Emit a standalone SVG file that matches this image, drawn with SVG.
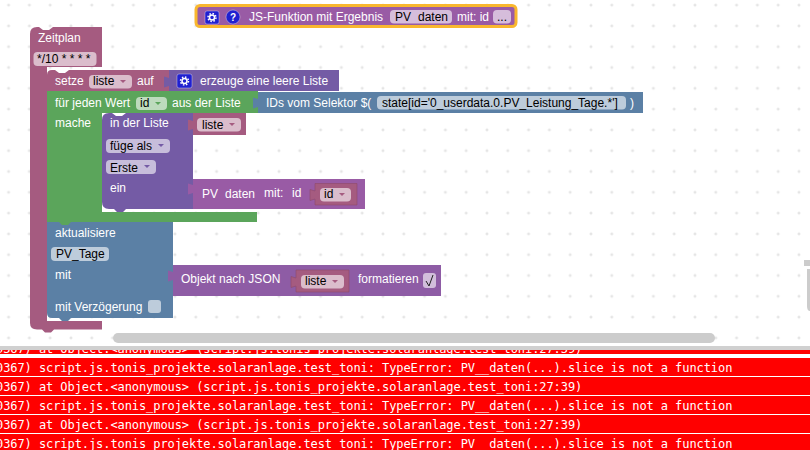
<svg xmlns="http://www.w3.org/2000/svg" width="810" height="450" viewBox="0 0 810 450">
<style>
text{font-family:"Liberation Sans",Arial,sans-serif;font-size:12px;fill:#fff;white-space:pre}
text.f{fill:#000}
text.m{font-family:"DejaVu Sans Mono","Liberation Mono",monospace;fill:#fff;letter-spacing:-.076px}
.pi{fill:#fff;fill-opacity:.6}
.ic{fill:#2020d0;stroke:#fff;stroke-opacity:.35}
.gear{fill:none;stroke:#fff;stroke-width:1.500}
.gt{fill:none;stroke:#fff;stroke-width:1.500;stroke-dasharray:1.500 1.640}
.red{fill:#f00}
.bar{fill:#ccc}
</style>
<defs>
<pattern id="grid" x="8.6" y="5.1" width="20.8" height="20.8" patternUnits="userSpaceOnUse">
<path d="M0,-1.5V1.5M-1.5,0H1.5M20.8,-1.5V1.5M19.3,0H22.3M0,19.3V22.3M-1.5,20.8H1.5M20.8,19.3V22.3M19.3,20.8H22.3" stroke="#ddd" stroke-width="1" fill="none"/>
</pattern>
<clipPath id="log"><rect x="0" y="350" width="810" height="100"/></clipPath>
</defs>
<rect width="810" height="346" fill="#fff"/>
<rect width="810" height="346" fill="url(#grid)"/>

<g id="func">
<rect x="196" y="5.5" width="320" height="21" rx="4" fill="#995ba5" stroke="#f9b72e" stroke-width="3"/>
<rect class="ic" x="205" y="11" width="14" height="13" rx="2"/><circle class="gear" cx="212" cy="17.500" r="2.500"/><circle class="gt" cx="212" cy="17.500" r="4"/>
<circle class="ic" cx="233" cy="17" r="7"/><text x="230" y="21" style="font-weight:bold;font-size:10px">?</text>
<text x="249" y="21">JS-Funktion mit Ergebnis</text>
<rect class="pi" x="390" y="10" width="62" height="13.500" rx="4"/>
<text class="f" x="395" y="21">PV</text><text class="f" x="418" y="21">daten</text>
<text x="457" y="21">mit: id</text>
<rect class="pi" x="493" y="10" width="18" height="13.500" rx="4"/><text class="f" x="497" y="21">...</text>
</g>

<g id="zeitplan">
<path d="M30,34Q30,27 37,27H39l4,3h6l4,-3H102V67H47V321H102V329.500H54l-3,3h-6l-3,-3H37Q30,329.500 30,323Z" fill="#a55b80"/>
<text x="38" y="42">Zeitplan</text>
<rect class="pi" x="33.500" y="52" width="63" height="14" rx="4"/>
<text class="f" x="37" y="63">*/10 * * * *</text>
</g>

<g id="setze">
<path d="M47,75Q47,70 52,70H55l4,3h6l4,-3H170V91H47Z" fill="#a55b80"/>
<text x="55" y="85">setze</text>
<rect class="pi" x="89" y="75" width="43" height="13.500" rx="4"/>
<text class="f" x="93" y="85">liste</text><path fill="#a55b80" d="M120,80h6l-3,3z"/>
<text x="137" y="85">auf</text>
</g>
<g id="liste-neu">
<path d="M169,70H339V91H169V86l-5,1.500v-11l5,1.500Z" fill="#745ba5"/>
<rect class="ic" x="177" y="74" width="15" height="14" rx="2"/><circle class="gear" cx="184.500" cy="81" r="2.500"/><circle class="gt" cx="184.500" cy="81" r="4"/>
<text x="200" y="85">erzeuge eine leere Liste</text>
</g>

<g id="aktualisiere">
<path d="M47,222H173V318H71l-3,3h-6l-3,-3H52Q47,318 47,313Z" fill="#5b80a5"/>
<text x="55" y="237">aktualisiere</text>
<rect class="pi" x="51" y="247" width="58" height="14" rx="4"/>
<text class="f" x="56" y="258">PV_Tage</text>
<text x="55" y="279">mit</text>
<text x="55" y="311">mit Verzögerung</text>
<rect class="pi" x="148" y="300" width="13" height="13" rx="3"/>
</g>
<g id="json">
<path d="M173,265H441V296H173V280l-5,1.500v-11l5,1.500Z" fill="#8e5ca5"/>
<text x="181" y="283">Objekt nach JSON</text>
<text x="358" y="283">formatieren</text>
<rect class="pi" x="423" y="273" width="13" height="15" rx="3"/>
<path d="M426,281l3,5l4,-11" fill="none" stroke="#222" stroke-width="1"/>
</g>
<g id="json-liste">
<path d="M296,270H349V292H296V286l-5,1.500v-11l5,1.500Z" fill="#a55b80" stroke="#8e4a6a" stroke-width=".6"/>
<rect class="pi" x="301" y="275" width="43" height="13.500" rx="4"/>
<text class="f" x="305" y="285">liste</text><path fill="#a55b80" d="M332,280h6l-3,3z"/>
</g>

<g id="foreach">
<path d="M47,91H258V113H102V212H257V222H71l-3,3h-6l-3,-3H47Z" fill="#5ba55b"/>
<text x="55" y="107">für jeden Wert</text>
<rect class="pi" x="136" y="97" width="31" height="13" rx="4"/>
<text class="f" x="140" y="107">id</text><path fill="#5ba55b" d="M155,102h6l-3,3z"/>
<text x="172" y="107">aus der Liste</text>
<text x="55" y="127">mache</text>
</g>
<g id="selektor">
<path d="M258,92H643V113H258V107l-5,1.500v-11l5,1.500Z" fill="#5b80a5"/>
<text x="266" y="107">IDs vom Selektor $(</text>
<rect class="pi" x="377" y="96" width="249" height="13.500" rx="4"/>
<text class="f" x="382" y="107">state[id='0_userdata.0.PV_Leistung_Tage.*']</text>
<text x="630" y="107">)</text>
</g>

<g id="in-der-liste">
<path d="M102,120Q102,113 109,113H112l4,3h6l4,-3H193V209H126l-3,3h-6l-3,-3H109Q102,209 102,202Z" fill="#745ba5"/>
<text x="110" y="127">in der Liste</text>
<rect class="pi" x="106" y="139" width="64" height="14" rx="4"/>
<text class="f" x="110" y="150">füge als</text><path fill="#745ba5" d="M158,144h6l-3,3z"/>
<rect class="pi" x="106" y="160" width="50" height="14" rx="4"/>
<text class="f" x="110" y="172">Erste</text><path fill="#745ba5" d="M144,165h6l-3,3z"/>
<text x="110" y="192">ein</text>
</g>
<g id="in-liste">
<path d="M193,113H246V135H193V129l-5,1.500v-11l5,1.500Z" fill="#a55b80"/>
<rect class="pi" x="197" y="118" width="44" height="13.500" rx="4"/>
<text class="f" x="202" y="129">liste</text><path fill="#a55b80" d="M229,123h6l-3,3z"/>
</g>
<g id="pv-daten">
<path d="M193,179H365V209H193V193l-5,1.500v-11l5,1.500Z" fill="#995ba5"/>
<text x="202" y="198">PV</text><text x="225" y="198">daten</text>
<text x="264" y="197">mit:</text><text x="292" y="197">id</text>
</g>
<g id="pv-id">
<path d="M315,183.500H357V205H315V199l-5,1.500v-11l5,1.500Z" fill="#a55b80" stroke="#8e4a6a" stroke-width=".6"/>
<rect class="pi" x="320" y="188" width="31" height="13.500" rx="4"/>
<text class="f" x="324" y="198">id</text><path fill="#a55b80" d="M339,193h6l-3,3z"/>
</g>

<g id="scrollbars">
<rect class="bar" x="113" y="333" width="602" height="10" rx="5"/>
<rect class="bar" x="804" y="260" width="6" height="6"/>
<path class="bar" d="M807,269H810V311Q807,311 807,306Z"/>
</g>

<g id="log-panel" clip-path="url(#log)">
<rect class="red" y="344" width="810" height="10"/>
<rect class="red" y="358" width="810" height="18"/>
<rect class="red" y="377" width="810" height="18"/>
<rect class="red" y="396" width="810" height="18"/>
<rect class="red" y="415" width="810" height="18"/>
<rect class="red" y="434" width="810" height="16"/>
<text class="m" x="-4" y="352.500">0367) at Object.&lt;anonymous&gt; (script.js.tonis_projekte.solaranlage.test_toni:27:39)</text>
<text class="m" x="-4" y="371.500">0367) script.js.tonis_projekte.solaranlage.test_toni: TypeError: PV__daten(...).slice is not a function</text>
<text class="m" x="-4" y="390.500">0367) at Object.&lt;anonymous&gt; (script.js.tonis_projekte.solaranlage.test_toni:27:39)</text>
<text class="m" x="-4" y="409.500">0367) script.js.tonis_projekte.solaranlage.test_toni: TypeError: PV__daten(...).slice is not a function</text>
<text class="m" x="-4" y="428.500">0367) at Object.&lt;anonymous&gt; (script.js.tonis_projekte.solaranlage.test_toni:27:39)</text>
<text class="m" x="-4" y="447.500">0367) script.js.tonis_projekte.solaranlage.test_toni: TypeError: PV__daten(...).slice is not a function</text>
</g>
<rect x="0" y="346" width="810" height="4" fill="#d0d0d0"/>
</svg>
